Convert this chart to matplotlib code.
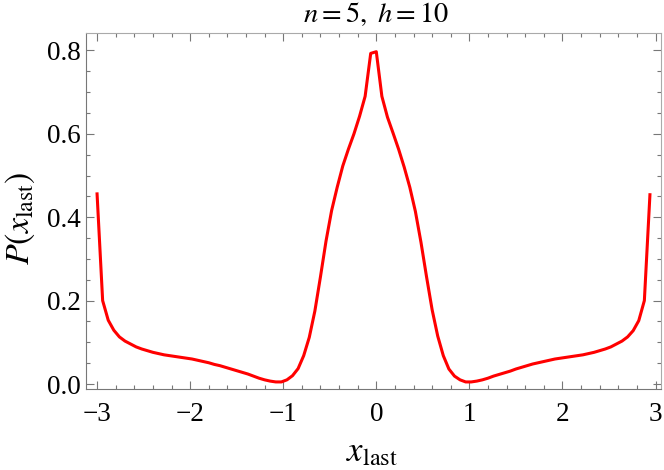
import numpy as np
import matplotlib.pyplot as plt
from matplotlib.ticker import MultipleLocator, FuncFormatter

# histogram bins (left edges), width 0.06 from -3
x_last = np.round(-3 + 0.06*np.arange(100), 2)
p_left = [0.456, 0.200, 0.153, 0.129, 0.113, 0.103, 0.096, 0.089, 0.084, 0.080,
          0.076, 0.073, 0.070, 0.068, 0.066, 0.064, 0.062, 0.060, 0.057, 0.054,
          0.051, 0.047, 0.044, 0.040, 0.036, 0.032, 0.028, 0.024, 0.019, 0.014,
          0.010, 0.007, 0.005, 0.005, 0.010, 0.020, 0.037, 0.068, 0.112, 0.175,
          0.257, 0.343, 0.416, 0.472, 0.523, 0.563, 0.600, 0.642, 0.690, 0.793]
p_right = [0.797, 0.690, 0.640, 0.602, 0.563, 0.520, 0.472, 0.414, 0.340, 0.257,
           0.178, 0.115, 0.068, 0.036, 0.019, 0.010, 0.005, 0.005, 0.007, 0.010,
           0.014, 0.019, 0.023, 0.027, 0.031, 0.036, 0.040, 0.044, 0.048, 0.051,
           0.054, 0.057, 0.060, 0.062, 0.064, 0.066, 0.068, 0.070, 0.073, 0.076,
           0.080, 0.084, 0.089, 0.096, 0.103, 0.113, 0.128, 0.152, 0.200, 0.454]
prob = np.array(p_left + p_right)

plt.rcParams['mathtext.fontset'] = 'stix'
plt.rcParams['font.family'] = 'Liberation Serif'

fig = plt.figure(figsize=(6.64, 4.70), dpi=100)
ax = fig.add_axes([0.1295, 0.1723, 0.866, 0.7567])
ax.plot(x_last, prob, color='red', lw=2.2)

ax.set_xlim(-3.119, 3.059)
ax.set_ylim(-0.012, 0.841)
ax.xaxis.set_major_locator(MultipleLocator(1))
ax.xaxis.set_minor_locator(MultipleLocator(0.2))
ax.yaxis.set_major_locator(MultipleLocator(0.2))
ax.yaxis.set_minor_locator(MultipleLocator(0.05))
ax.xaxis.set_major_formatter(FuncFormatter(lambda v, p: ('%d' % round(v)).replace('-', '\u2212')))
ax.yaxis.set_major_formatter(FuncFormatter(lambda v, p: '%.1f' % v))

ax.tick_params(which='both', direction='in', top=True, right=True, color='#777777',
               labelsize=19.5)
ax.tick_params(which='major', length=5.5, width=0.8)
ax.tick_params(which='minor', length=3, width=0.8)
ax.tick_params(axis='x', pad=9)
ax.tick_params(axis='y', pad=4)
for s in ['left', 'bottom']:
    ax.spines[s].set_color('#777777')
for s in ['top', 'right']:
    ax.spines[s].set_color('#aaaaaa')

fig.text(376/664, 1 - 14/470, r'$n=5,\ h=10$', ha='center', va='center', fontsize=20.5)
fig.text(372/664, 1 - 453/470, r'$x_{\rm last}$', ha='center', va='center', fontsize=25)
fig.text(20/664, 1 - 218/470, r'$P(x_{\rm last})$', ha='center', va='center',
         rotation=90, fontsize=24.5)

fig.savefig('out.png', dpi=100)
